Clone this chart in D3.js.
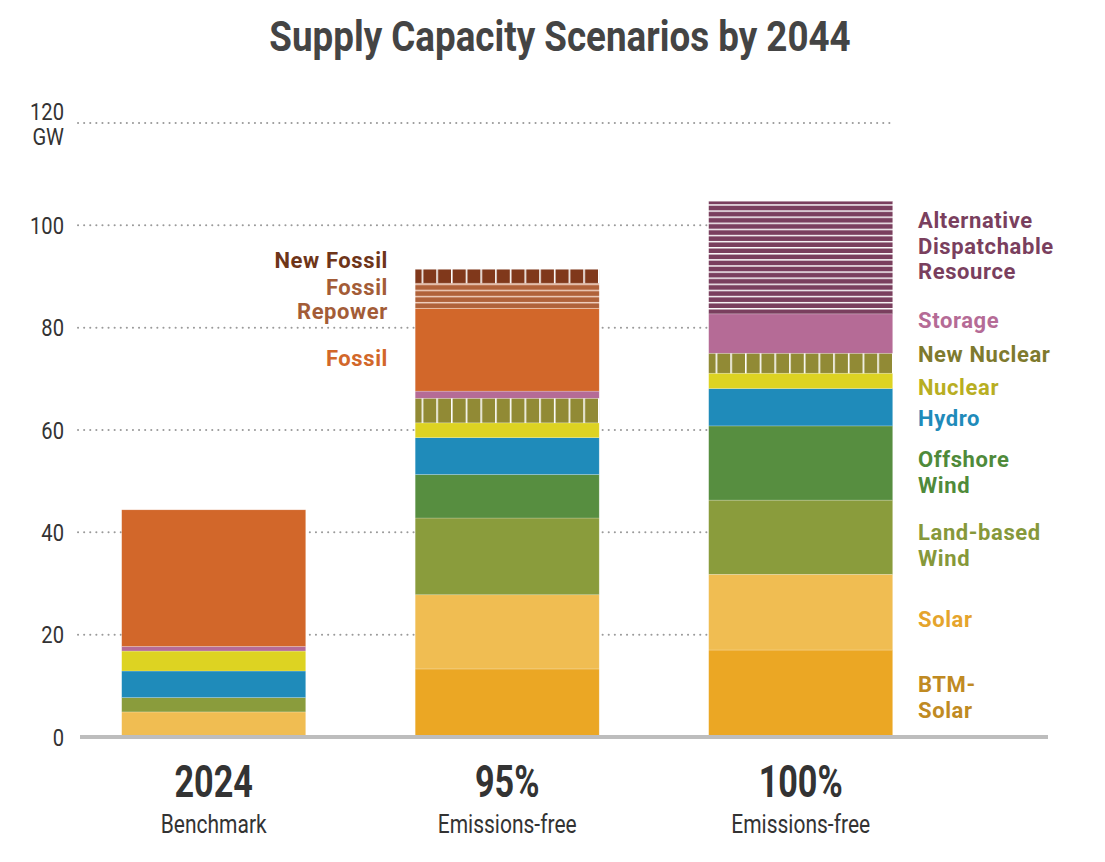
<!DOCTYPE html>
<html>
<head>
<meta charset="utf-8">
<script src="https://cdn.jsdelivr.net/npm/d3@7"></script>
<style>
  body { margin: 0; background: #fff; }
  text { font-family: Roboto, "Noto Sans", sans-serif; }
</style>
</head>
<body>
<script>
// scenarios along the x axis
var categories = ["2024", "95%", "100%"];
var subtitles = ["Benchmark", "Emissions-free", "Emissions-free"];

// stack order, bottom to top
var series = ["BTM Solar", "Solar", "Land-based Wind", "Offshore Wind", "Hydro", "Nuclear",
  "New Nuclear", "Storage", "Fossil", "Fossil Repower", "New Fossil", "Alternative Dispatchable Resource"];

// GW per series, one value per scenario
var btmSolar      = [0,    13.3, 17.0];
var solar         = [4.9,  14.5, 14.8];
var landWind      = [2.8,  15.0, 14.5];
var offshoreWind  = [0,    8.5,  14.5];
var hydro         = [5.2,  7.2,  7.3];
var nuclear       = [3.9,  2.9,  3.0];
var newNuclear    = [0,    4.8,  3.9];
var storage       = [0.9,  1.4,  7.7];
var fossil        = [26.7, 16.2, 0];
var fossilRepower = [0,    4.9,  0];
var newFossil     = [0,    2.7,  0];
var altDispatch   = [0,    0,    22.0];

var yTicks = [0, 20, 40, 60, 80, 100, 120];

var seriesValues = [btmSolar, solar, landWind, offshoreWind, hydro, nuclear,
  newNuclear, storage, fossil, fossilRepower, newFossil, altDispatch];

var colors = {
  "BTM Solar": "#eba724",
  "Solar": "#f0bd52",
  "Land-based Wind": "#8a9c3c",
  "Offshore Wind": "#578e40",
  "Hydro": "#1f8bba",
  "Nuclear": "#ddd322",
  "New Nuclear": "#918a35",
  "Storage": "#b56b96",
  "Fossil": "#d2672a",
  "Fossil Repower": "#b0623a",
  "New Fossil": "#80381b",
  "Alternative Dispatchable Resource": "#7a3f5e"
};

// which series get a hatch over the fill
var hatch = {
  "New Nuclear": "vline",
  "New Fossil": "vline",
  "Fossil Repower": "hline",
  "Alternative Dispatchable Resource": "hline"
};

var W = 1105, H = 862;

var svg = d3.select("body").append("svg")
  .attr("width", W)
  .attr("height", H);

var defs = svg.append("defs");

// build a pattern per hatched series
Object.keys(hatch).forEach(function (name, i) {
  var id = "pat" + i;
  hatch[name] = { type: hatch[name], id: id };
  var vertical = hatch[name].type === "vline";
  var step = vertical ? 14.7 : 6.1;
  var p = defs.append("pattern")
    .attr("id", id)
    .attr("patternUnits", "userSpaceOnUse")
    .attr("width", vertical ? step : 10)
    .attr("height", vertical ? 10 : step)
    .attr("x", vertical ? 10 : 0)
    .attr("y", vertical ? 0 : 3);
  p.append("rect")
    .attr("width", vertical ? step : 10)
    .attr("height", vertical ? 10 : step)
    .attr("fill", colors[name]);
  var lineColor = name === "Fossil Repower" ? "#f3d6c6" : "#ffffff";
  if (vertical) {
    p.append("rect").attr("x", 0).attr("y", 0).attr("width", 1.6).attr("height", 10).attr("fill", lineColor);
  } else {
    p.append("rect").attr("x", 0).attr("y", 0).attr("width", 10).attr("height", 1.4).attr("fill", lineColor);
  }
});

// scales
var x = d3.scaleBand()
  .domain(categories)
  .range([121.7, 892.7])
  .paddingInner(0.373)
  .paddingOuter(0);

var y = d3.scaleLinear()
  .domain([0, 120])
  .range([737, 123]);

// condensed look: Roboto squeezed horizontally
function condensed(parent, tx, ty, str, size, weight, anchor, fill, sq) {
  return parent.append("text")
    .attr("transform", "translate(" + tx + "," + ty + ") scale(" + (sq || 0.84) + ",1)")
    .attr("text-anchor", anchor)
    .attr("font-size", size)
    .attr("font-weight", weight)
    .attr("fill", fill)
    .text(str);
}

// title
condensed(svg, 560, 51, "Supply Capacity Scenarios by 2044", 43, 700, "middle", "#444", 0.855);

// dotted gridlines
var grid = svg.append("g").attr("class", "grid");
grid.selectAll("line")
  .data(yTicks.filter(function (d) { return d > 0; }))
  .enter().append("line")
  .attr("x1", 78)
  .attr("x2", 895)
  .attr("y1", function (d) { return y(d); })
  .attr("y2", function (d) { return y(d); })
  .attr("stroke", "#9a9a9a")
  .attr("stroke-width", 2)
  .attr("stroke-linecap", "round")
  .attr("stroke-dasharray", "0.1,6");

// y axis labels; the top one sits above its line with the unit under it
var yAxis = d3.axisLeft(y).tickValues(yTicks).tickSize(0).tickPadding(0);
var yg = svg.append("g")
  .attr("transform", "translate(64,0)")
  .call(yAxis);
yg.select(".domain").remove();
yg.selectAll(".tick text").remove();
yg.selectAll(".tick").each(function (d) {
  condensed(d3.select(this), 0, d === 120 ? -4 : 8, d, 24, 400, "end", "#333");
});
condensed(svg, 64, 145, "GW", 24, 400, "end", "#333");

// stacked bars
var table = categories.map(function (c, i) {
  var row = { cat: c };
  series.forEach(function (s, k) { row[s] = seriesValues[k][i]; });
  return row;
});
var stacked = d3.stack().keys(series)(table);

var bars = svg.append("g").attr("class", "bars");
bars.selectAll("g")
  .data(stacked)
  .enter().append("g")
  .attr("fill", function (d) {
    return hatch[d.key] ? "url(#" + hatch[d.key].id + ")" : colors[d.key];
  })
  .selectAll("rect")
  .data(function (d) { return d.filter(function (v) { return v[1] - v[0] > 0; }); })
  .enter().append("rect")
  .attr("x", function (d) { return x(d.data.cat); })
  .attr("width", x.bandwidth())
  .attr("y", function (d) { return y(d[1]); })
  .attr("height", function (d) { return y(d[0]) - y(d[1]); })
  .attr("stroke", "#ffffff")
  .attr("stroke-opacity", 0.35)
  .attr("stroke-width", 0.6);

// baseline
svg.append("line")
  .attr("x1", 80).attr("x2", 1048)
  .attr("y1", y(0)).attr("y2", y(0))
  .attr("stroke", "#bdbdbd")
  .attr("stroke-width", 4);

// category labels
categories.forEach(function (c, i) {
  var cx = x(c) + x.bandwidth() / 2;
  condensed(svg, cx, 797, c, 45, 700, "middle", "#333", 0.76);
  condensed(svg, cx, 833, subtitles[i], 25, 400, "middle", "#333");
});

// series labels
var rightLabels = [
  { key: "Alternative Dispatchable Resource", lines: ["Alternative", "Dispatchable", "Resource"], y: 228, fill: "#7a3f5e" },
  { key: "Storage", lines: ["Storage"], y: 328, fill: "#b56b96" },
  { key: "New Nuclear", lines: ["New Nuclear"], y: 362, fill: "#7e7a2e" },
  { key: "Nuclear", lines: ["Nuclear"], y: 395, fill: "#b8ae22" },
  { key: "Hydro", lines: ["Hydro"], y: 426, fill: "#1f8bba" },
  { key: "Offshore Wind", lines: ["Offshore", "Wind"], y: 467, fill: "#4f8a3a" },
  { key: "Land-based Wind", lines: ["Land-based", "Wind"], y: 540, fill: "#86983a" },
  { key: "Solar", lines: ["Solar"], y: 627, fill: "#e5a42c" },
  { key: "BTM Solar", lines: ["BTM-", "Solar"], y: 692, fill: "#c08a22" }
];
var leftLabels = [
  { key: "New Fossil", lines: ["New Fossil"], y: 268, fill: "#6e3519" },
  { key: "Fossil Repower", lines: ["Fossil", "Repower"], y: 295, fill: "#a35c37" },
  { key: "Fossil", lines: ["Fossil"], y: 366, fill: "#d2672a" }
];

function drawLabels(list, lx, anchor, lineH) {
  list.forEach(function (l) {
    var t = svg.append("text")
      .attr("x", lx)
      .attr("y", l.y)
      .attr("text-anchor", anchor)
      .attr("font-size", 22)
      .attr("font-weight", 700)
      .attr("letter-spacing", 0.6)
      .attr("fill", l.fill);
    l.lines.forEach(function (s, j) {
      t.append("tspan").attr("x", lx).attr("dy", j === 0 ? 0 : lineH).text(s);
    });
  });
}
drawLabels(rightLabels, 918, "start", 25.5);
drawLabels(leftLabels, 388, "end", 23.5);
</script>
</body>
</html>
